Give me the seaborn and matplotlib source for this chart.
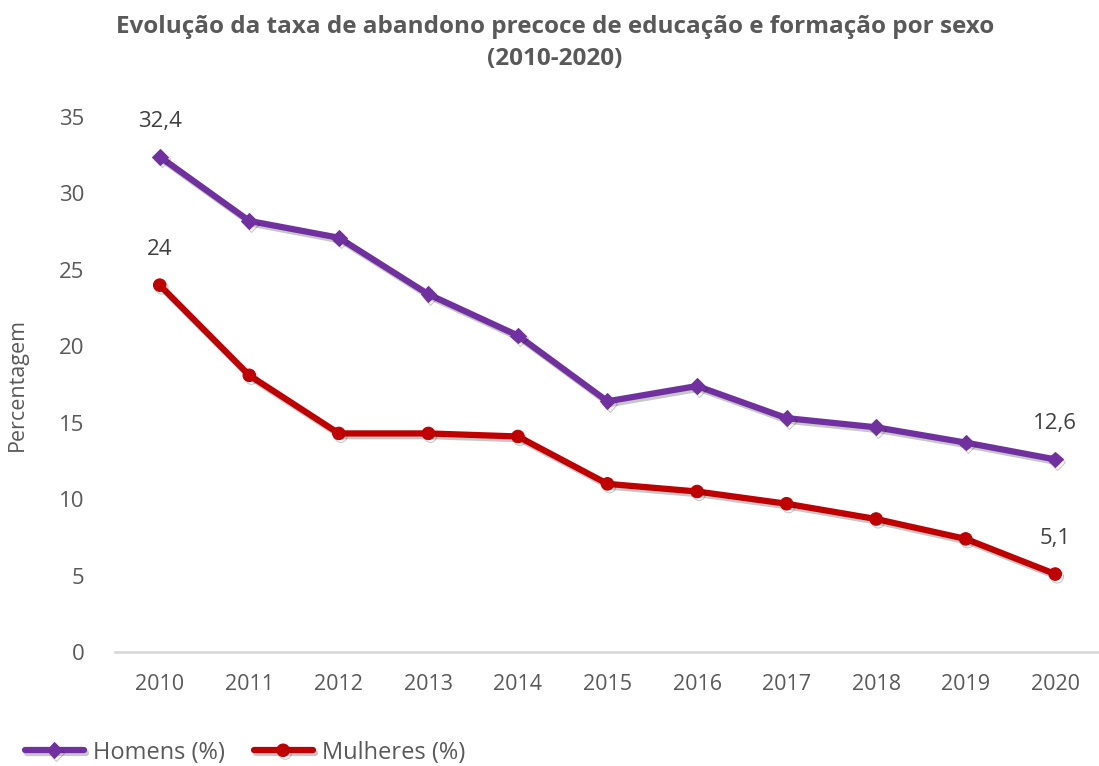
import matplotlib
matplotlib.use("Agg")
import matplotlib.pyplot as plt
import matplotlib.patheffects as pe
import pandas as pd
import seaborn as sns

anos = [2010, 2011, 2012, 2013, 2014, 2015, 2016, 2017, 2018, 2019, 2020]
homens = [32.4, 28.2, 27.1, 23.4, 20.7, 16.4, 17.4, 15.3, 14.7, 13.7, 12.6]
mulheres = [24.0, 18.1, 14.3, 14.3, 14.1, 11.0, 10.5, 9.7, 8.7, 7.4, 5.1]

sns.set_style("white")
plt.rcParams['font.family'] = ['Open Sans', 'DejaVu Sans']

cor_h = "#7030A0"
cor_m = "#C00000"
cinza = "#595959"

df = pd.DataFrame({"pos": range(len(anos)), "Homens (%)": homens, "Mulheres (%)": mulheres})

fig = plt.figure(figsize=(10.99, 7.66), dpi=100)
ax = fig.add_axes([0.1046, 0.1488, 0.8963, 0.6985])

sombra = [pe.SimpleLineShadow(offset=(1.5, -2), shadow_color="black", alpha=0.22), pe.Normal()]
sns.lineplot(data=df, x="pos", y="Homens (%)", color=cor_h, marker="D", markersize=8,
             markeredgecolor=cor_h, linewidth=4.5, ax=ax, label="Homens (%)", path_effects=sombra)
sns.lineplot(data=df, x="pos", y="Mulheres (%)", color=cor_m, marker="o", markersize=9,
             markeredgecolor=cor_m, linewidth=4.5, ax=ax, label="Mulheres (%)", path_effects=sombra)

def fmt(v):
    s = f"{v:.1f}".replace(".", ",")
    return s[:-2] if s.endswith(",0") else s

for i in [0, len(anos) - 1]:
    ax.annotate(fmt(homens[i]), (i, homens[i]), xytext=(0, 18), textcoords="offset points",
                ha="center", va="bottom", fontsize=16, color="#404040")
    ax.annotate(fmt(mulheres[i]), (i, mulheres[i]), xytext=(0, 18), textcoords="offset points",
                ha="center", va="bottom", fontsize=16, color="#404040")

ax.set_xlim(-0.5, len(anos) - 0.5)
ax.set_ylim(0, 35)
ax.set_xticks(range(len(anos)))
ax.set_xticklabels([str(a) for a in anos])
ax.set_yticks(range(0, 36, 5))
ax.tick_params(axis="x", colors="#D9D9D9", length=6, width=1.5, direction="out", labelcolor=cinza, labelsize=15.5, pad=10)
ax.tick_params(axis="y", length=0, labelcolor=cinza, labelsize=16, pad=22)
for s in ["top", "right", "left"]:
    ax.spines[s].set_visible(False)
ax.spines["bottom"].set_color("#D9D9D9")
ax.spines["bottom"].set_linewidth(2)
ax.set_xlabel("")
ax.set_ylabel("Percentagem", fontsize=15.5, color=cinza, labelpad=22)

fig.suptitle("Evolução da taxa de abandono precoce de educação e formação por sexo\n(2010-2020)",
             x=0.505, y=0.98, fontsize=17.5, fontweight="bold", color=cinza, linespacing=1.45)

ax.legend(loc="lower left", bbox_to_anchor=(-0.113, -0.25), ncol=2, frameon=False,
          fontsize=17, labelcolor=cinza, handlelength=2.5, handletextpad=0.4, columnspacing=1.2)

fig.savefig("out.png", dpi=100)
